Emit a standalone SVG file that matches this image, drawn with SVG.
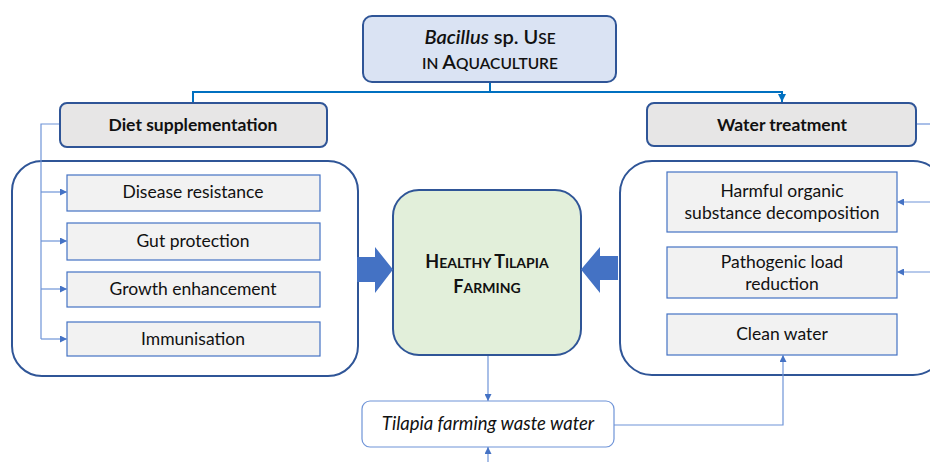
<svg xmlns="http://www.w3.org/2000/svg" width="930" height="462" viewBox="0 0 930 462">
<style>
text{font-family:Lato,"Liberation Sans",sans-serif;fill:#111;text-anchor:middle}
.cont{fill:#fff;stroke:#2f5597;stroke-width:2}
.item{fill:#f2f2f2;stroke:#4472c4;stroke-width:1.2}
.hdr{fill:#e7e6e6;stroke:#2f5597;stroke-width:2}
.t16{font-size:17.5px}
.b{font-weight:bold}
.thin{fill:none;stroke:#6f94d8;stroke-width:1.2}
.main{fill:none;stroke:#0070c0;stroke-width:2}
.big{fill:#4472c4}
</style>
<defs>
<marker id="a" viewBox="0 0 10 10" refX="10" refY="5" markerWidth="7" markerHeight="7" orient="auto" markerUnits="userSpaceOnUse"><path d="M0,0 L10,5 L0,10 z" fill="#4472c4"/></marker>
<marker id="a2" viewBox="0 0 10 10" refX="10" refY="5" markerWidth="8" markerHeight="8" orient="auto" markerUnits="userSpaceOnUse"><path d="M0,0 L10,5 L0,10 z" fill="#0070c0"/></marker>
</defs>

<g id="title">
<rect x="363" y="16" width="253" height="66" rx="9" fill="#dae3f3" stroke="#2f5597" stroke-width="2"/>
<text x="490" y="44" font-size="20" font-weight="600"><tspan font-style="italic">Bacillus</tspan> sp. U<tspan font-size="15.5">SE</tspan></text>
<text x="490" y="69" font-size="20" font-weight="600"><tspan font-size="15.5">IN </tspan>A<tspan font-size="15.5">QUACULTURE</tspan></text>
</g>

<g id="diet">
<rect class="hdr" x="60" y="103" width="267" height="44" rx="7"/>
<text class="t16 b" x="193" y="131">Diet supplementation</text>
</g>

<g id="water">
<rect class="hdr" x="647" y="103" width="269" height="43" rx="7"/>
<text class="t16 b" x="782" y="131">Water treatment</text>
</g>

<g id="diet-group">
<rect class="cont" x="12" y="161" width="346" height="215" rx="30"/>
</g>
<g id="disease"><rect class="item" x="67" y="175" width="253" height="36"/><text class="t16" x="193" y="198">Disease resistance</text></g>
<g id="gut"><rect class="item" x="67" y="223" width="253" height="37"/><text class="t16" x="193" y="247">Gut protection</text></g>
<g id="growth"><rect class="item" x="67" y="272" width="253" height="35"/><text class="t16" x="193" y="295">Growth enhancement</text></g>
<g id="immun"><rect class="item" x="67" y="322" width="253" height="34"/><text class="t16" x="193" y="345">Immunisation</text></g>

<g id="water-group">
<rect class="cont" x="620" y="161" width="325" height="214" rx="32"/>
</g>
<g id="harmful"><rect class="item" x="667" y="172" width="230" height="60"/><text class="t16" x="782" y="197">Harmful organic</text><text class="t16" x="782" y="219">substance decomposition</text></g>
<g id="pathogenic"><rect class="item" x="667" y="247" width="230" height="51"/><text class="t16" x="782" y="268">Pathogenic load</text><text class="t16" x="782" y="290">reduction</text></g>
<g id="clean"><rect class="item" x="667" y="314" width="230" height="41"/><text class="t16" x="782" y="340">Clean water</text></g>

<g id="healthy">
<rect x="393" y="190" width="188" height="165" rx="26" fill="#e2efda" stroke="#2f5597" stroke-width="2"/>
<text x="487" y="268" font-size="18" font-weight="bold">H<tspan font-size="14">EALTHY </tspan>T<tspan font-size="14">ILAPIA</tspan></text>
<text x="487" y="293" font-size="18" font-weight="bold">F<tspan font-size="14">ARMING</tspan></text>
</g>

<g id="waste">
<rect x="362" y="401" width="252" height="46" rx="8" fill="#fff" stroke="#6f94d8" stroke-width="1.2"/>
<text x="488" y="430" font-size="18.5" font-style="italic">Tilapia farming waste water</text>
</g>

<g id="connectors">
<path class="main" d="M490,83 V92 H193 V102"/>
<path class="main" d="M490,92 H782 V102" marker-end="url(#a2)"/>
<path class="thin" d="M59,124 H41 V339"/>
<path class="thin" d="M41,192 H67" marker-end="url(#a)"/>
<path class="thin" d="M41,241 H67" marker-end="url(#a)"/>
<path class="thin" d="M41,289 H67" marker-end="url(#a)"/>
<path class="thin" d="M41,339 H67" marker-end="url(#a)"/>
<path class="thin" d="M917,124 H932"/>
<path class="thin" d="M932,202 H897" marker-end="url(#a)"/>
<path class="thin" d="M932,272 H897" marker-end="url(#a)"/>
<path class="thin" d="M488,356 V401" marker-end="url(#a)"/>
<path class="thin" d="M488,462 V447" marker-end="url(#a)"/>
<path class="thin" d="M614,425 H783 V355" marker-end="url(#a)"/>
<path class="big" d="M357,257 H375 V247 L393,269.5 L375,293 V282 H357 Z"/>
<path class="big" d="M618,256 H600 V247 L581,269.5 L600,293 V280 H618 Z"/>
</g>
</svg>
